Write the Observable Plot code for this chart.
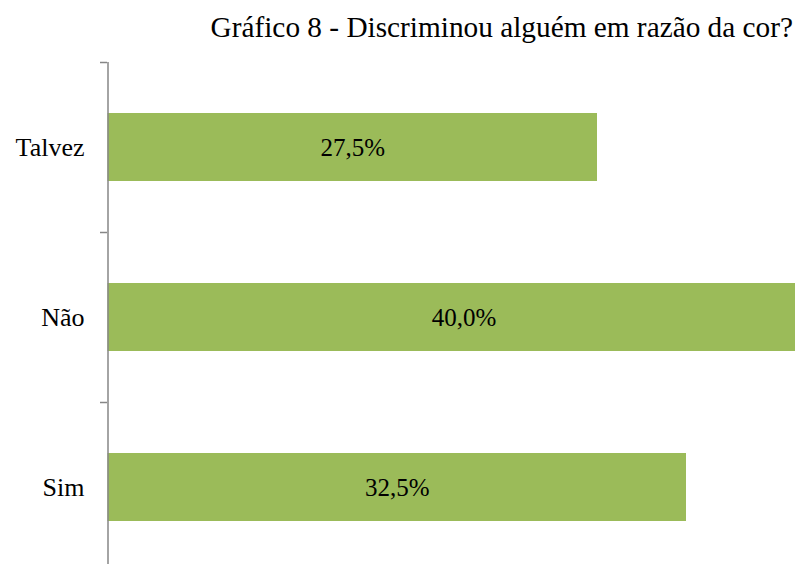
<!DOCTYPE html>
<html>
<head>
<meta charset="utf-8">
<script src="https://cdn.jsdelivr.net/npm/d3@7"></script>
<script src="https://cdn.jsdelivr.net/npm/@observablehq/plot@0.6"></script>
<style>
  html, body { margin: 0; padding: 0; background: #fff; }
  #wrap { position: relative; width: 795px; height: 564px; overflow: hidden; }
  #title {
    position: absolute; right: 2px; top: 12.5px;
    font-family: "Liberation Serif", "Times New Roman", serif;
    font-size: 29.3px; line-height: 1; color: #000; white-space: nowrap;
  }
  #wrap svg { position: absolute; left: 0; top: 0; max-width: none; }
  #wrap svg text { font-family: "Liberation Serif", "Times New Roman", serif; }
</style>
</head>
<body>
<div id="wrap">
  <div id="title">Gráfico 8 - Discriminou alguém em razão da cor?</div>
</div>
<script>
const categories = ["Talvez", "Não", "Sim"];
const values = [27.5, 40.0, 32.5];

const data = categories.map((c, i) => ({category: c, value: values[i]}));
const fmt = v => v.toFixed(1).replace(".", ",") + "%";

const yRange = [62, 572];
const step = (yRange[1] - yRange[0]) / categories.length;
const axisColor = "#868686";
const serif = "Liberation Serif, Times New Roman, serif";

const chart = Plot.plot({
  width: 795,
  height: 564,
  marginLeft: 107,
  marginRight: 0,
  marginTop: 62,
  marginBottom: 0,
  style: {fontFamily: serif, background: "transparent", overflow: "hidden"},
  x: {domain: [0, 40], range: [107.5, 819.5], axis: null},
  y: {domain: categories, range: yRange, paddingInner: 0.6, paddingOuter: 0.3, label: null},
  marks: [
    Plot.barX(data, {y: "category", x: "value", fill: "#9BBB59"}),
    Plot.text(data, {y: "category", x: d => d.value / 2, text: d => fmt(d.value),
      fontSize: 25, fill: "#000"}),
    Plot.ruleX([0], {stroke: axisColor, strokeWidth: 1.5}),
    Plot.axisY({tickSize: 7, text: null, dy: -step / 2, stroke: axisColor, strokeWidth: 1.5, label: null}),
    Plot.axisY({tickSize: 0, tickPadding: 23, fontSize: 26, fill: "#000", label: null})
  ]
});
document.getElementById("wrap").appendChild(chart);
</script>
</body>
</html>
